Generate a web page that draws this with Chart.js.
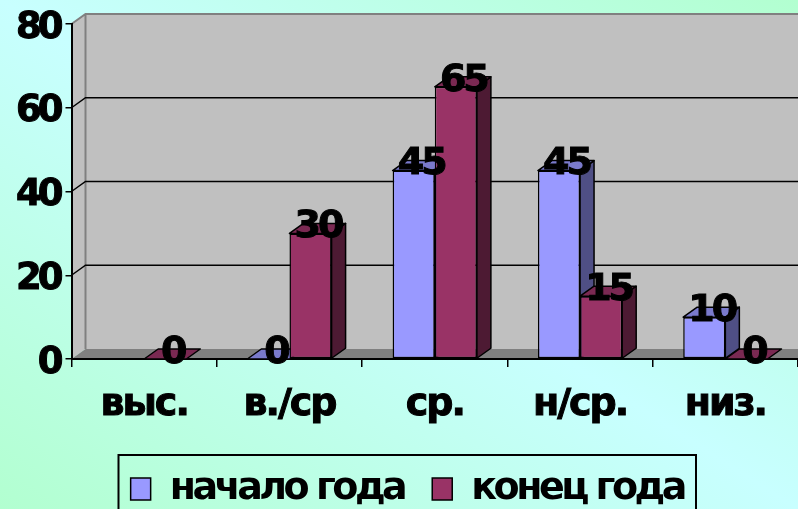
<!DOCTYPE html>
<html>
<head>
<meta charset="utf-8">
<title>chart</title>
<script src="https://cdn.jsdelivr.net/npm/chart.js@4"></script>
<style>
	html, body { margin: 0; padding: 0; width: 798px; height: 509px; overflow: hidden; }
	body { background: linear-gradient(to top right, #b2ffd0, #c8ffff 50%, #b2ffd0); }
	canvas { display: block; }
</style>
</head>
<body>
<canvas id="mycanvas" width="798" height="509"></canvas>
<script>
var categories = ["выс.", "в./ср", "ср.", "н/ср.", "низ."];
var series1Name = "начало года";
var series2Name = "конец года";
var series1 = [null, 0, 45, 45, 10];
var series2 = [0, 30, 65, 15, 0];
var yTicks = [0, 20, 40, 60, 80];

var depthX = 14;
var depthY = 10;
var fontName = "'DejaVu Sans'";
var fontSize = 38;

function poly(ctx, pts, fill, stroke, lw) {
	ctx.beginPath();
	ctx.moveTo(pts[0][0], pts[0][1]);
	for (var i = 1; i < pts.length; i++) {
		ctx.lineTo(pts[i][0], pts[i][1]);
	}
	ctx.closePath();
	ctx.fillStyle = fill;
	ctx.fill();
	if (stroke) {
		ctx.strokeStyle = stroke;
		ctx.lineWidth = lw;
		ctx.stroke();
	}
}

// the original text is squeezed tight, chart.js has no option for that
function squeeze(box, method, px) {
	var old = box[method];
	box[method] = function(a) {
		var c = this.ctx;
		c.letterSpacing = px;
		old.call(this, a);
		c.letterSpacing = "0px";
	};
}

// back wall, side wall, floor and gridlines of the 3d box
var wallsPlugin = {
	id: "walls",
	beforeDraw: function(chart) {
		var ctx = chart.ctx;
		var a = chart.chartArea;
		var y = chart.scales.y;
		ctx.save();
		poly(ctx, [[a.left + depthX, a.top - depthY], [a.right + 5, a.top - depthY], [a.right + 5, a.bottom - depthY], [a.left + depthX, a.bottom - depthY]], "#c0c0c0");
		poly(ctx, [[a.left, a.top], [a.left + depthX, a.top - depthY], [a.left + depthX, a.bottom - depthY], [a.left, a.bottom]], "#c0c0c0");
		poly(ctx, [[a.left, a.bottom], [a.left + depthX, a.bottom - depthY], [a.right + 5, a.bottom - depthY], [a.right + 5, a.bottom]], "#808080");
		ctx.strokeStyle = "#808080";
		ctx.lineWidth = 2;
		ctx.beginPath();
		ctx.moveTo(a.left, a.top);
		ctx.lineTo(a.left + depthX, a.top - depthY);
		ctx.lineTo(a.right + 5, a.top - depthY);
		ctx.moveTo(a.left + depthX, a.top - depthY);
		ctx.lineTo(a.left + depthX, a.bottom - depthY);
		ctx.stroke();
		ctx.strokeStyle = "#000";
		ctx.lineWidth = 1.5;
		for (var i = 0; i < yTicks.length; i++) {
			if (yTicks[i] == 0 || yTicks[i] == 80) continue;
			var py = y.getPixelForValue(yTicks[i]);
			ctx.beginPath();
			ctx.moveTo(a.left, py);
			ctx.lineTo(a.left + depthX, py - depthY);
			ctx.lineTo(a.right + 5, py - depthY);
			ctx.stroke();
		}
		ctx.restore();
	},
	afterLayout: function(chart) {
		chart.legend.top = 442;
		chart.legend.left += 45;
		chart.legend.right += 45;
		if (!chart.squeezed) {
			squeeze(chart.scales.x, "drawLabels", "-2px");
			squeeze(chart.scales.y, "drawLabels", "-4px");
			squeeze(chart.legend, "draw", "-3.5px");
			chart.squeezed = true;
		}
	},
	// top and side faces go under every front face; blue first so red covers it
	beforeDatasetsDraw: function(chart) {
		var ctx = chart.ctx;
		ctx.save();
		ctx.lineJoin = "round";
		chart.data.datasets.forEach(function(ds, d) {
			var meta = chart.getDatasetMeta(d);
			for (var i = 0; i < meta.data.length; i++) {
				if (ds.data[i] === null) continue;
				var p = meta.data[i].getProps(["x", "y", "base", "width"]);
				var l = p.x - p.width / 2;
				var r = p.x + p.width / 2;
				if (p.base - p.y > 1) {
					poly(ctx, [[r, p.y], [r + depthX, p.y - depthY], [r + depthX, p.base - depthY], [r, p.base]], ds.sideColor, "#000", 1.5);
				}
				poly(ctx, [[l, p.y], [l + depthX, p.y - depthY], [r + depthX, p.y - depthY], [r, p.y]], ds.topColor, "#000", 1.5);
			}
		});
		ctx.restore();
	},
	afterDraw: function(chart) {
		var ctx = chart.ctx;
		ctx.save();
		ctx.strokeStyle = "#000";
		ctx.lineWidth = 2;
		ctx.strokeRect(118.5, 455, 577.5, 80);
		ctx.restore();
	},
	// value labels over the bars
	afterDatasetsDraw: function(chart) {
		var ctx = chart.ctx;
		ctx.save();
		ctx.letterSpacing = "-3px";
		ctx.font = "bold " + fontSize + "px " + fontName;
		ctx.fillStyle = "#000";
		ctx.strokeStyle = "#000";
		ctx.lineWidth = 1;
		ctx.textAlign = "center";
		ctx.textBaseline = "middle";
		chart.data.datasets.forEach(function(ds, d) {
			var meta = chart.getDatasetMeta(d);
			for (var i = 0; i < meta.data.length; i++) {
				if (ds.data[i] === null) continue;
				var p = meta.data[i].getProps(["x", "y"]);
				ctx.fillText(String(ds.data[i]), p.x + 7.5, p.y - 6);
				ctx.strokeText(String(ds.data[i]), p.x + 7.5, p.y - 6);
			}
		});
		ctx.restore();
	}
};

var chartdata = {
	labels: categories,
	datasets: [
		{
			label: series1Name,
			data: series1,
			backgroundColor: "#9999ff",
			borderColor: "#000",
			borderWidth: 1.5,
			borderSkipped: false,
			topColor: "#7a7acc",
			sideColor: "#4f4f85"
		},
		{
			label: series2Name,
			data: series2,
			backgroundColor: "#993366",
			borderColor: "#000",
			borderWidth: 1.5,
			borderSkipped: false,
			topColor: "#7a2952",
			sideColor: "#4d1a33"
		}
	]
};

var ctx = document.getElementById("mycanvas");

var myChart = new Chart(ctx, {
	type: "bar",
	data: chartdata,
	plugins: [wallsPlugin],
	options: {
		responsive: false,
		animation: false,
		devicePixelRatio: 1,
		layout: { padding: { top: 24, left: 0, right: 0, bottom: 0 } },
		datasets: { bar: { categoryPercentage: 0.58, barPercentage: 1 } },
		plugins: {
			tooltip: { enabled: false },
			legend: {
				position: "bottom",
				labels: {
					boxWidth: 20,
					boxHeight: 22,
					padding: 28,
					color: "#000",
					font: { family: fontName, weight: "bold", size: fontSize }
				}
			}
		},
		scales: {
			x: {
				afterFit: function(scale) { scale.height = 74; },
				grid: { drawOnChartArea: false, tickLength: 8, color: "#000", lineWidth: 1.5 },
				border: { color: "#000", width: 2 },
				ticks: { color: "#000", padding: 15, maxRotation: 0, textStrokeColor: "#000", textStrokeWidth: 1, font: { family: fontName, weight: "bold", size: fontSize } }
			},
			y: {
				min: 0,
				max: 80,
				afterFit: function(scale) {
					scale.width = 71.5;
					scale.paddingTop = 0;
					scale.paddingBottom = 0;
				},
				afterBuildTicks: function(scale) {
					scale.ticks = yTicks.map(function(v) { return { value: v }; });
				},
				grid: { drawOnChartArea: false, tickLength: 6, color: "#000", lineWidth: 1.5 },
				border: { color: "#000", width: 2 },
				ticks: { color: "#000", padding: 6, labelOffset: 4, textStrokeColor: "#000", textStrokeWidth: 1, font: { family: fontName, weight: "bold", size: 37 } }
			}
		}
	}
});
</script>
</body>
</html>
